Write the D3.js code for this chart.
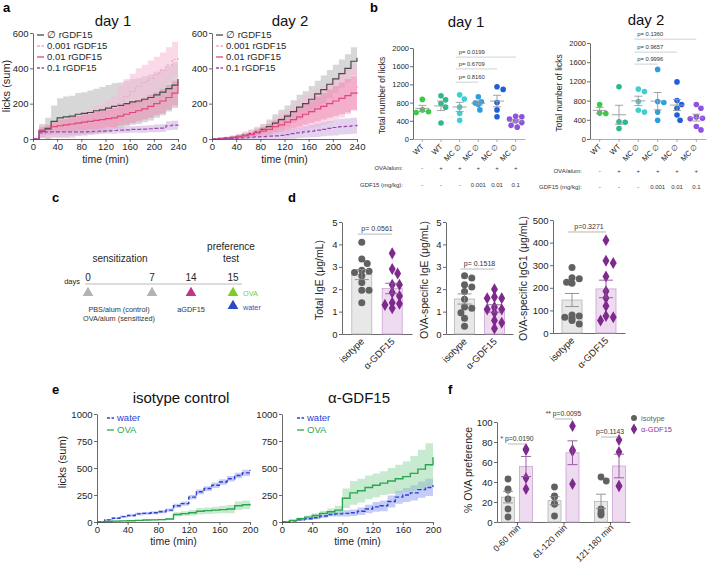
<!DOCTYPE html>
<html><head><meta charset="utf-8">
<script src="https://cdn.jsdelivr.net/npm/d3@7"></script>
<style>body{margin:0;background:#fff}svg{display:block}</style>
</head><body><svg id="c" width="708" height="565"></svg>
<script>
// ---------------- DATA ----------------
// panel a (time in min, cumulative licks, SEM band half-width)
const aTimes = [0,10,20,30,40,50,60,70,80,90,100,110,120,130,140,150,160,170,180,190,200,210,220,230,240];
const aXTicks = [0,40,80,120,160,200,240];
const aYTicks = [0,200,400,600];
const aNames = ["\u2205 rGDF15","0.001 rGDF15","0.01 rGDF15","0.1 rGDF15"];
const a1Null  = [0,45,60,100,120,125,130,140,145,150,160,165,175,185,190,200,210,215,225,235,250,265,285,305,340];
const a1NullE = [0,40,60,90,110,115,115,120,120,125,125,130,130,130,130,130,130,130,130,130,130,130,130,130,130];
const a1Low   = [0,15,25,35,45,55,65,75,85,95,105,115,130,150,200,240,270,300,320,345,365,390,420,450,470];
const a1LowE  = [0,10,20,30,40,50,60,60,70,70,80,80,90,90,100,100,100,100,100,100,100,100,100,100,100];
const a1Mid   = [0,50,55,70,75,80,85,90,95,100,105,110,115,120,130,140,150,160,170,185,200,215,235,260,320];
const a1MidE  = [0,20,25,30,35,35,40,40,45,45,50,50,50,55,55,60,60,60,60,65,65,70,70,70,70];
const a1High  = [0,35,40,40,40,40,40,40,40,42,44,45,46,48,50,52,54,55,56,58,60,62,75,78,80];
const a1HighE = [0,15,15,15,15,15,15,15,15,15,15,15,15,18,18,18,18,20,20,20,22,22,25,25,25];
const a2Null  = [0,3,6,10,15,22,30,40,55,70,90,110,130,155,180,200,225,255,280,310,340,370,400,440,460];
const a2NullE = [0,3,5,8,10,15,20,25,30,40,50,55,60,65,70,70,75,75,80,80,80,80,80,80,80];
const a2Low   = [0,3,6,10,15,22,30,40,50,60,75,90,100,115,130,145,160,175,190,210,230,250,270,290,310];
const a2LowE  = [0,5,8,10,15,20,25,30,35,40,50,60,70,80,90,100,100,110,110,120,120,130,130,130,130];
const a2Mid   = [0,2,5,8,12,18,25,35,45,55,70,80,95,110,125,140,155,170,185,200,215,230,245,260,265];
const a2MidE  = [0,3,5,7,10,12,15,20,25,30,35,40,45,50,55,60,65,70,75,80,85,90,95,95,95];
const a2High  = [0,1,2,3,5,7,10,12,14,16,18,20,25,30,35,40,45,50,55,60,65,70,72,75,80];
const a2HighE = [0,2,3,5,6,8,10,12,15,18,20,22,25,28,30,32,35,38,40,42,45,45,45,45,45];

// panel b (total licks per mouse)
const bCats = ["WT","WT","MC \u2205","MC \u2205","MC \u2205","MC \u2205"];
const bOva  = ["-","+","+","+","+","+"];
const bGdf  = ["-","-","-","0.001","0.01","0.1"];
const bYTicks = [0,400,800,1200,1600,2000];
const bD1 = [
  [870,640,600,580],
  [950,860,780,700,350],
  [970,880,700,560,410],
  [930,820,790,760,640],
  [1150,1090,800,640,490],
  [500,490,440,400,360,300,260]
];
const bD2 = [
  [720,540,530],
  [1090,360,350,220],
  [1040,990,780,600,560],
  [1450,780,760,560,390],
  [1190,800,720,640,500,390],
  [720,640,460,430,420,260,190]
];
const bD1P = [["p= 0.8160",2,3,1250],["p= 0.6709",2,4,1540],["p= 0.0199",2,5,1800]];
const bD2P = [["p= 0.9996",2,3,1560],["p= 0.9657",2,4,1810],["p= 0.1360",2,5,2080]];

// panel c
const cDays = [0,7,14,15];

// panel d
const dCats = ["isotype","\u03b1-GDF15"];
const dTotalIso  = [4.1,3.35,3.15,2.85,2.8,2.75,2.6,2.3,1.95,1.95,1.4];
const dTotalAnti = [3.6,2.9,2.7,2.2,2.2,1.85,1.7,1.4,1.35,1.3,1.15];
const dIgEIso    = [2.6,2.5,2.2,2.1,1.9,1.55,1.2,1.15,0.95,0.7,0.35];
const dIgEAnti   = [2.0,1.65,1.6,1.6,1.2,1.1,1.1,0.95,0.6,0.5,0.25];
const dIgG1Iso   = [290,245,240,225,220,80,75,70,65,55,40];
const dIgG1Anti  = [410,320,310,250,185,155,120,75,70,55];
const dP = ["p= 0.0561","p= 0.1518","p=0.3271"];

// panel e
const eTimes = [0,10,20,30,40,50,60,70,80,90,100,110,120,130,140,150,160,170,180,190,200];
const eXTicks = [0,40,80,120,160,200];
const eYTicks = [0,250,500,750,1000];
const e1Water  = [0,20,35,50,60,75,80,85,95,110,150,170,230,280,310,340,370,400,430,455,480];
const e1WaterE = [0,8,10,10,12,12,12,14,15,15,18,20,20,22,22,25,25,25,25,28,28];
const e1Ova    = [0,5,8,10,12,15,18,20,22,28,70,78,85,100,105,110,115,120,150,160,170];
const e1OvaE   = [0,3,5,5,5,6,6,7,8,8,20,22,25,30,30,32,35,38,40,40,42];
const e2Water  = [0,10,20,30,40,55,70,75,80,85,100,120,140,150,190,230,250,270,300,320,340];
const e2WaterE = [0,8,10,12,15,18,20,25,28,30,35,40,45,50,55,60,65,70,75,80,85];
const e2Ova    = [0,15,30,45,60,80,95,110,220,270,290,320,340,360,380,400,420,450,490,530,600];
const e2OvaE   = [0,8,12,15,20,25,30,40,90,110,110,110,110,110,120,130,140,160,180,200,240];

// panel f (% OVA preference)
const fCats = ["0-60 min","61-120 min","121-180 min"];
const fIso  = [[43,33,32,23,13,5],[35,26,25,18,18,6],[45,41,13,10,8,7]];
const fAnti = [[73,72,44,33],[96,72,71,38],[82,70,36,36]];
const fP = [["* p=0.0190",78],["** p=0.0095",103],["p=0.1143",85]];
const fYTicks = [0,20,40,60,80,100];

// ---------------- DRAWING ----------------
const svg = d3.select("#c");
const F = '"Liberation Sans", Arial, Helvetica, sans-serif';
const fmt = d3.format("d");
function txt(g, x, y, s, o = {}) {
  const t = g.append("text").attr("x", x).attr("y", y).text(s)
    .attr("font-size", o.fs || 10).attr("fill", o.fill || "#262626")
    .attr("text-anchor", o.anchor || "start").attr("font-family", F);
  if (o.bold) t.attr("font-weight", "bold");
  if (o.rot != null) t.attr("transform", `rotate(${o.rot},${x},${y})`);
  return t;
}
function styleAxis(g, fs, col) {
  g.selectAll("text").attr("font-size", fs).attr("fill", "#262626").attr("font-family", F);
  g.selectAll("path.domain, line").attr("stroke", col || "#444").attr("stroke-width", 0.8);
}
function swarm(vals, y, r, maxOff) {
  const placed = [], off = new Array(vals.length);
  const order = vals.map((v, i) => i).sort((a, b) => vals[b] - vals[a]);
  order.forEach(i => {
    const yi = y(vals[i]);
    const c = [0];
    for (let k = 1; k < 30; k++) c.push(k * r * 0.55, -k * r * 0.55);
    let best = 0;
    for (const cx of c) {
      if (Math.abs(cx) > maxOff) continue;
      if (placed.every(p => (p.x - cx) ** 2 + (p.y - yi) ** 2 >= (2 * r) ** 2)) { best = cx; break; }
    }
    placed.push({ x: best, y: yi }); off[i] = best;
  });
  return off;
}
const mean = a => d3.mean(a);
const sem = a => d3.deviation(a) / Math.sqrt(a.length);

// panel letters
[["a",3,12],["b",370,12],["c",52,202],["d",288,202],["e",52,394],["f",448,394]]
  .forEach(([s,x,y]) => txt(svg, x, y, s, {fs: 13, bold: true, fill: "#000"}));

function timePanel(p) {
  const x = d3.scaleLinear().domain([0, p.xMax]).range([p.left, p.right]);
  const y = d3.scaleLinear().domain([0, p.yMax]).range([p.bottom, p.top]);
  const g = svg.append("g");
  p.series.forEach(s => {
    const area = d3.area().curve(d3.curveStepAfter)
      .x((d, i) => x(p.times[i]))
      .y0((d, i) => y(Math.max(0, d - s.e[i])))
      .y1((d, i) => y(Math.min(p.yMax, d + s.e[i])));
    g.append("path").attr("d", area(s.v)).attr("fill", s.band).attr("fill-opacity", s.op);
  });
  p.series.forEach(s => {
    const line = d3.line().curve(d3.curveStepAfter).x((d, i) => x(p.times[i])).y(d => y(d));
    g.append("path").attr("d", line(s.v)).attr("fill", "none").attr("stroke", s.color)
      .attr("stroke-width", s.w || 1.2).attr("stroke-dasharray", s.dash || null);
  });
  const ax = g.append("g").attr("transform", `translate(0,${p.bottom})`)
    .call(d3.axisBottom(x).tickValues(p.xTicks).tickFormat(fmt).tickSize(3).tickPadding(1.5).tickSizeOuter(0));
  const ay = g.append("g").attr("transform", `translate(${p.left},0)`)
    .call(d3.axisLeft(y).tickValues(p.yTicks).tickFormat(fmt).tickSize(3).tickPadding(1.5).tickSizeOuter(0));
  styleAxis(ax, p.fs); styleAxis(ay, p.fs);
  if (p.title) txt(g, p.title[0], p.title[1], p.title[2], {fs: 15, anchor: "middle", fill: "#111"});
  txt(g, (p.left + p.right) / 2, p.bottom + p.xlabOff, "time (min)", {fs: 10.5, anchor: "middle"});
  if (p.ylab) txt(g, p.ylab[0], p.ylab[1], "licks (sum)", {fs: 11, anchor: "middle", rot: -90});
  if (p.legend) p.series.forEach((s, i) => {
    const ly = p.legend.y + i * p.legend.dy;
    g.append("line").attr("x1", p.legend.x).attr("x2", p.legend.x + 7).attr("y1", ly).attr("y2", ly)
      .attr("stroke", s.color).attr("stroke-width", 1.3).attr("stroke-dasharray", s.dash ? "3,1.5" : null);
    txt(g, p.legend.x + 10, ly + 3.4, s.name, {fs: p.legend.fs, fill: p.legend.colored ? s.color : "#262626"});
  });
}

const aCol = [
  {color: "#4a4a4a", band: "#bdbdbd", op: 0.6},
  {color: "#f2a6c9", band: "#f6bcd7", op: 0.55, dash: "2,2"},
  {color: "#e4457f", band: "#ee79a7", op: 0.45},
  {color: "#9a4aab", band: "#d2b2e3", op: 0.6, dash: "4,2"}
];
function aSeries(vals, errs) { return vals.map((v, i) => Object.assign({v, e: errs[i], name: aNames[i]}, aCol[i])); }
timePanel({left: 33, right: 178, top: 33, bottom: 139, xMax: 240, yMax: 600, times: aTimes, xlabOff: 23.5,
  xTicks: aXTicks, yTicks: aYTicks, fs: 9.5, title: [113, 26, "day 1"], ylab: [10, 86],
  series: aSeries([a1Null, a1Low, a1Mid, a1High], [a1NullE, a1LowE, a1MidE, a1HighE]),
  legend: {x: 37, y: 35, dy: 11, fs: 9.5}});
timePanel({left: 212, right: 357, top: 33, bottom: 139, xMax: 240, yMax: 600, times: aTimes, xlabOff: 23.5,
  xTicks: aXTicks, yTicks: aYTicks, fs: 9.5, title: [290, 26, "day 2"],
  series: aSeries([a2Null, a2Low, a2Mid, a2High], [a2NullE, a2LowE, a2MidE, a2HighE]),
  legend: {x: 216, y: 35, dy: 11, fs: 9.5}});

// panel b
const bColors = ["#3dc84a", "#2bb88a", "#3fcfd0", "#2b9ee0", "#1f5fd6", "#8f52e0"];
function dotPanel(p) {
  const x = d3.scaleBand().domain(d3.range(p.data.length)).range([p.left, p.right]);
  const y = d3.scaleLinear().domain([0, 2000]).range([p.bottom, p.top]);
  const g = svg.append("g");
  const ay = g.append("g").attr("transform", `translate(${p.left},0)`)
    .call(d3.axisLeft(y).tickValues(bYTicks).tickFormat(fmt).tickSize(3).tickPadding(1).tickSizeOuter(0));
  styleAxis(ay, 7.5);
  const ax = g.append("g").attr("transform", `translate(0,${p.bottom})`)
    .call(d3.axisBottom(x).tickSize(3).tickSizeOuter(0).tickFormat(""));
  styleAxis(ax, 7.5, "#999");
  txt(g, p.title[0], p.title[1], p.title[2], {fs: 15, anchor: "middle", fill: "#111"});
  txt(g, p.ylabX, (p.top + p.bottom) / 2 + 2, "Total number of licks", {fs: 8.5, anchor: "middle", rot: -90});
  p.data.forEach((vals, i) => {
    const cx = x(i) + x.bandwidth() / 2;
    const off = swarm(vals, y, 2.8, 8);
    vals.forEach((v, j) => g.append("circle").attr("cx", cx + off[j]).attr("cy", y(v)).attr("r", 2.8).attr("fill", bColors[i]));
    const m = mean(vals), s = sem(vals);
    g.append("line").attr("x1", cx - 7).attr("x2", cx + 7).attr("y1", y(m)).attr("y2", y(m)).attr("stroke", "#999").attr("stroke-width", 0.9);
    g.append("line").attr("x1", cx).attr("x2", cx).attr("y1", y(m - s)).attr("y2", y(m + s)).attr("stroke", "#999").attr("stroke-width", 0.9);
    [m - s, m + s].forEach(v => g.append("line").attr("x1", cx - 4).attr("x2", cx + 4).attr("y1", y(v)).attr("y2", y(v)).attr("stroke", "#999").attr("stroke-width", 0.9));
    txt(g, cx + 2, p.bottom + 8, bCats[i], {fs: 7.5, anchor: "end", rot: -45});
    txt(g, cx, p.rowY[0], bOva[i], {fs: 6, anchor: "middle", fill: "#333"});
    txt(g, cx, p.rowY[1], bGdf[i], {fs: 6, anchor: "middle", fill: "#333"});
  });
  txt(g, p.rowX, p.rowY[0], "OVA/alum:", {fs: 6, anchor: "end", fill: "#333"});
  txt(g, p.rowX, p.rowY[1], "GDF15 (mg/kg):", {fs: 6, anchor: "end", fill: "#333"});
  p.pvals.forEach(([s, a, b, lv]) => {
    const x1 = x(a) + x.bandwidth() / 2 - 4, x2 = x(b) + x.bandwidth() / 2;
    g.append("line").attr("x1", x1).attr("x2", x2).attr("y1", y(lv)).attr("y2", y(lv)).attr("stroke", "#bbb").attr("stroke-width", 0.7);
    txt(g, x1 + 3, y(lv) - 3, s, {fs: 5.8, fill: "#333"});
  });
}
dotPanel({left: 413, right: 525, top: 48, bottom: 139, data: bD1, title: [466, 27, "day 1"], ylabX: 385,
  rowX: 403, rowY: [170, 187], pvals: bD1P});
dotPanel({left: 590, right: 706, top: 43, bottom: 139, data: bD2, title: [646, 25, "day 2"], ylabX: 562,
  rowX: 582, rowY: [173, 189], pvals: bD2P});

// panel c
{
  const g = svg.append("g");
  const x = d3.scaleLinear().domain(cDays).range([88, 152, 191, 233]);
  txt(g, 120, 262, "sensitization", {fs: 10, anchor: "middle"});
  txt(g, 231, 250, "preference", {fs: 10, anchor: "middle"});
  txt(g, 231, 262, "test", {fs: 10, anchor: "middle"});
  txt(g, 80, 284, "days", {fs: 7.5, anchor: "end"});
  g.append("line").attr("x1", 85).attr("x2", 242).attr("y1", 284).attr("y2", 284).attr("stroke", "#aaa").attr("stroke-width", 0.8);
  cDays.forEach(d => txt(g, x(d), 281, String(d), {fs: 10, anchor: "middle"}));
  const tri = d3.symbol(d3.symbolTriangle, 50);
  const triCols = ["#b3b3b3", "#b3b3b3", "#c0358c", "#7ccc2a"];
  cDays.forEach((d, i) => g.append("path").attr("d", tri()).attr("transform", `translate(${x(d)},293)`).attr("fill", triCols[i]));
  g.append("path").attr("d", tri()).attr("transform", `translate(${x(15)},306)`).attr("fill", "#2a48c8");
  txt(g, 119, 312, "PBS/alum (control)", {fs: 7.3, anchor: "middle", fill: "#333"});
  txt(g, 119, 321, "OVA/alum (sensitized)", {fs: 7.3, anchor: "middle", fill: "#333"});
  txt(g, x(14), 312, "aGDF15", {fs: 7.3, anchor: "middle", fill: "#333"});
  txt(g, 243, 296, "OVA", {fs: 7.3, fill: "#7ccc2a"});
  txt(g, 243, 310, "water", {fs: 7.3, fill: "#3a52c8"});
}

// panel d
function barPanel(p) {
  const x = d3.scalePoint().domain(dCats).range([p.left, p.right]).padding(p.pad);
  const y = d3.scaleLinear().domain([0, p.yMax]).range([p.bottom, p.top]);
  const g = svg.append("g");
  const ay = g.append("g").attr("transform", `translate(${p.left},0)`)
    .call(d3.axisLeft(y).tickValues(p.yTicks).tickFormat(fmt).tickSize(3).tickPadding(1.5).tickSizeOuter(0));
  styleAxis(ay, 9.5);
  const ax = g.append("g").attr("transform", `translate(0,${p.bottom})`)
    .call(d3.axisBottom(x).tickSize(0).tickSizeOuter(0).tickFormat(""));
  styleAxis(ax, 9.5);
  txt(g, p.ylabX, (p.top + p.bottom) / 2 + 2, p.ylab, {fs: 10.5, anchor: "middle", rot: -90});
  [[p.iso, 0], [p.anti, 1]].forEach(([vals, k]) => {
    const cx = x(dCats[k]), m = mean(vals), s = sem(vals);
    g.append("rect").attr("x", cx - 10).attr("width", 20).attr("y", y(m)).attr("height", p.bottom - y(m))
      .attr("fill", k ? "#eedbef" : "#e8e8e8").attr("stroke", k ? "#c9a3d1" : "#b5b5b5").attr("stroke-width", 0.8);
    const off = swarm(vals, y, 3.3, 10);
    vals.forEach((v, j) => {
      if (k) g.append("path").attr("d", d3.symbol(d3.symbolDiamond, 42)()).attr("transform", `translate(${cx + off[j]},${y(v)})`).attr("fill", "#7d2a8c");
      else g.append("circle").attr("cx", cx + off[j]).attr("cy", y(v)).attr("r", 3.5).attr("fill", "#616161");
    });
    const ec = k ? "#8e4f9c" : "#8a8a8a";
    g.append("line").attr("x1", cx).attr("x2", cx).attr("y1", y(m - s)).attr("y2", y(m + s)).attr("stroke", ec).attr("stroke-width", 0.9);
    [m - s, m + s].forEach(v => g.append("line").attr("x1", cx - 7).attr("x2", cx + 7).attr("y1", y(v)).attr("y2", y(v)).attr("stroke", ec).attr("stroke-width", 0.9));
    txt(g, cx + 3, p.bottom + 8, dCats[k], {fs: 9.5, anchor: "end", rot: -45});
  });
  const x1 = x(dCats[0]), x2 = x(dCats[1]);
  g.append("line").attr("x1", x1 - 4).attr("x2", x2).attr("y1", y(p.pLv)).attr("y2", y(p.pLv)).attr("stroke", "#999").attr("stroke-width", 0.7);
  txt(g, (x1 + x2) / 2, y(p.pLv) - 3, p.p, {fs: 7, anchor: "middle", fill: "#333"});
}
barPanel({left: 342, right: 412, pad: 0.65, top: 222, bottom: 334, yMax: 5, yTicks: [0,1,2,3,4,5],
  ylab: "Total IgE (\u03bcg/mL)", ylabX: 323, iso: dTotalIso, anti: dTotalAnti, p: dP[0], pLv: 4.46});
barPanel({left: 446, right: 513, pad: 0.62, top: 222, bottom: 334, yMax: 5, yTicks: [0,1,2,3,4,5],
  ylab: "OVA-specific IgE (\u03bcg/mL)", ylabX: 428, iso: dIgEIso, anti: dIgEAnti, p: dP[1], pLv: 2.9});
barPanel({left: 553, right: 625, pad: 0.56, top: 220, bottom: 333, yMax: 500, yTicks: [0,100,200,300,400,500],
  ylab: "OVA-specific IgG1 (\u03bcg/mL)", ylabX: 527, iso: dIgG1Iso, anti: dIgG1Anti, p: dP[2], pLv: 447});

// panel e
const eCol = [
  {name: "water", color: "#2d3fd6", band: "#7f8ff0", op: 0.45, dash: "4,2", w: 1.4},
  {name: "OVA", color: "#2aa64f", band: "#8fd6a2", op: 0.5, w: 1.4}
];
timePanel({left: 97, right: 250, top: 414, bottom: 522, xMax: 200, yMax: 1000, times: eTimes, xlabOff: 23,
  xTicks: eXTicks, yTicks: eYTicks, fs: 9.5, title: [181, 403, "isotype control"], ylab: [66, 462],
  series: [Object.assign({v: e1Water, e: e1WaterE}, eCol[0]), Object.assign({v: e1Ova, e: e1OvaE}, eCol[1])],
  legend: {x: 107, y: 418, dy: 12, fs: 9.5, colored: true}});
timePanel({left: 282, right: 433, top: 414, bottom: 522, xMax: 200, yMax: 1000, times: eTimes, xlabOff: 23,
  xTicks: eXTicks, yTicks: eYTicks, fs: 9.5, title: [359, 403, "\u03b1-GDF15"],
  series: [Object.assign({v: e2Water, e: e2WaterE}, eCol[0]), Object.assign({v: e2Ova, e: e2OvaE}, eCol[1])],
  legend: {x: 297, y: 418, dy: 12, fs: 9.5, colored: true}});

// panel f
{
  const left = 497, right = 630, top = 422, bottom = 522;
  const x = d3.scalePoint().domain(fCats).range([left, right]).padding(0.43);
  const y = d3.scaleLinear().domain([0, 100]).range([bottom, top]);
  const g = svg.append("g");
  const ay = g.append("g").attr("transform", `translate(${left},0)`)
    .call(d3.axisLeft(y).tickValues(fYTicks).tickFormat(fmt).tickSize(3).tickPadding(1.5).tickSizeOuter(0));
  styleAxis(ay, 9.5);
  const ax = g.append("g").attr("transform", `translate(0,${bottom})`)
    .call(d3.axisBottom(x).tickSize(3).tickSizeOuter(0).tickFormat(""));
  styleAxis(ax, 9.5);
  txt(g, 472, 470, "% OVA preference", {fs: 10.5, anchor: "middle", rot: -90});
  fCats.forEach((c, gi) => {
    const gc = x(c);
    [[fIso[gi], 0], [fAnti[gi], 1]].forEach(([vals, k]) => {
      const cx = gc + (k ? 9 : -9), m = mean(vals), s = sem(vals);
      g.append("rect").attr("x", cx - 6.5).attr("width", 13).attr("y", y(m)).attr("height", bottom - y(m))
        .attr("fill", k ? "#eedbef" : "#e8e8e8").attr("stroke", k ? "#c9a3d1" : "#b5b5b5").attr("stroke-width", 0.8);
      const off = swarm(vals, y, 3.2, 7);
      vals.forEach((v, j) => {
        if (k) g.append("path").attr("d", d3.symbol(d3.symbolDiamond, 40)()).attr("transform", `translate(${cx + off[j]},${y(v)})`).attr("fill", "#7d2a8c");
        else g.append("circle").attr("cx", cx + off[j]).attr("cy", y(v)).attr("r", 3.4).attr("fill", "#616161");
      });
      const ec = k ? "#8e4f9c" : "#8a8a8a";
      g.append("line").attr("x1", cx).attr("x2", cx).attr("y1", y(m - s)).attr("y2", y(m + s)).attr("stroke", ec).attr("stroke-width", 0.9);
      [m - s, m + s].forEach(v => g.append("line").attr("x1", cx - 5).attr("x2", cx + 5).attr("y1", y(v)).attr("y2", y(v)).attr("stroke", ec).attr("stroke-width", 0.9));
    });
    txt(g, gc + 4, bottom + 6, c, {fs: 8.8, anchor: "end", rot: -45});
    const [ps, lv] = fP[gi];
    g.append("line").attr("x1", gc - 9).attr("x2", gc + 9).attr("y1", y(lv)).attr("y2", y(lv)).attr("stroke", "#999").attr("stroke-width", 0.7);
    txt(g, gc, y(lv) - 3, ps, {fs: 6.8, anchor: "middle", fill: "#333"});
  });
  g.append("circle").attr("cx", 634).attr("cy", 418).attr("r", 3).attr("fill", "#616161");
  txt(g, 641, 421, "isotype", {fs: 7.5, fill: "#666"});
  g.append("path").attr("d", d3.symbol(d3.symbolDiamond, 36)()).attr("transform", "translate(634,429)").attr("fill", "#7d2a8c");
  txt(g, 641, 432, "\u03b1-GDF15", {fs: 7.5, fill: "#8b3a99"});
}
</script></body></html>
